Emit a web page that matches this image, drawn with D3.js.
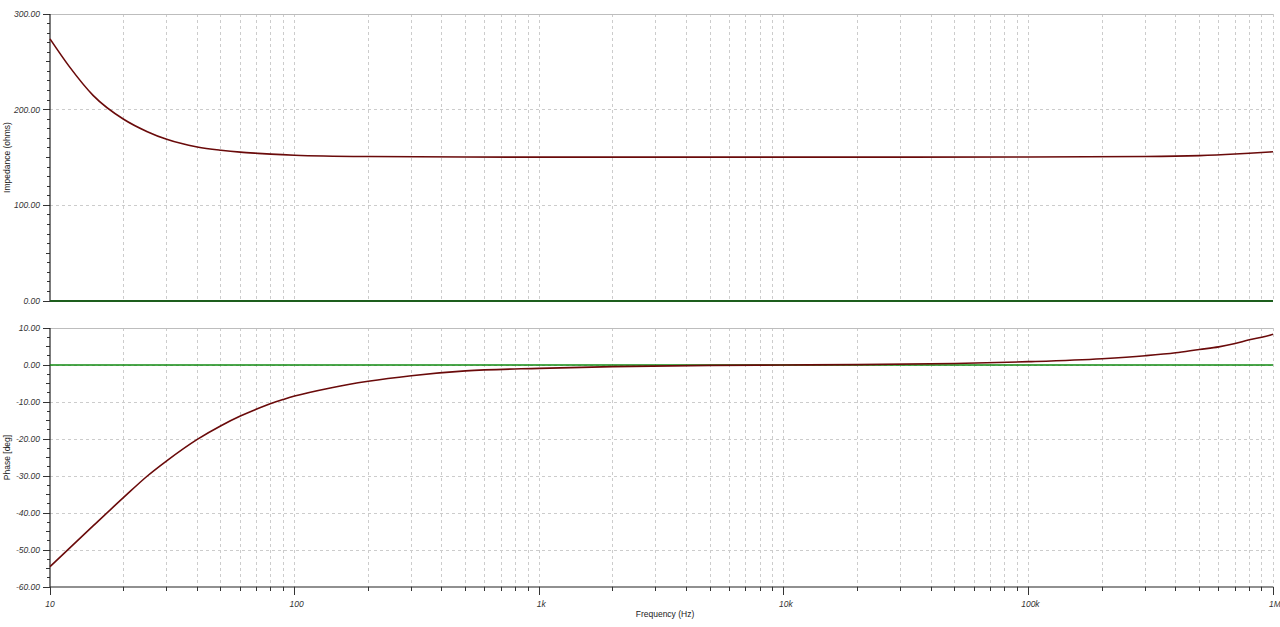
<!DOCTYPE html>
<html><head><meta charset="utf-8">
<script src="https://cdn.jsdelivr.net/npm/d3@7"></script>
<style>
html,body{margin:0;padding:0;background:#fff;}
text{font-family:"Liberation Sans",Arial,sans-serif;}
</style></head>
<body><svg id="c" width="1280" height="627"></svg>
<script>
// ---- data ----
const freqImp = [10, 12, 15, 20, 25, 30, 40, 50, 60, 70, 80, 100, 200, 500, 1000, 10000, 100000, 300000, 500000, 700000, 800000, 1000000];
const impedance = [274, 245, 215, 190, 177, 169, 161, 157.6, 155.6, 154.4, 153.5, 152.4, 151, 150.5, 150.4, 150.4, 150.5, 151, 152, 153.6, 154.4, 156];
const freqPh = [10, 15, 20, 25, 30, 40, 50, 60, 70, 80, 90, 100, 140, 200, 300, 500, 1000, 2000, 5000, 10000, 20000, 50000, 100000, 200000, 300000, 400000, 500000, 600000, 700000, 800000, 900000, 1000000];
const phase = [-54.5, -43.5, -35.8, -30, -25.9, -20.1, -16.4, -13.8, -11.9, -10.4, -9.3, -8.4, -6.2, -4.4, -2.9, -1.6, -0.9, -0.45, -0.1, 0, 0.1, 0.4, 0.9, 1.7, 2.5, 3.3, 4.2, 4.9, 5.8, 6.8, 7.5, 8.3];
const xTickValues = [10, 100, 1000, 10000, 100000, 1000000];
const xTickLabels = ["10", "100", "1k", "10k", "100k", "1M"];
const impTicks = [0, 100, 200, 300];
const phTicks = [-60, -50, -40, -30, -20, -10, 0, 10];
const impTitle = "Impedance (ohms)";
const phTitle = "Phase [deg]";
const xTitle = "Frequency (Hz)";

const svg = d3.select("#c");
const L = 50, R = 1273;
const x = d3.scaleLog().domain([10, 1e6]).range([L, R]);
const yImp = d3.scaleLinear().domain([0, 300]).range([301, 14]);
const yPh = d3.scaleLinear().domain([-60, 10]).range([587, 328]);

// minor decade values
const minorX = [];
for (let d = 10; d < 1e6; d *= 10) for (let k = 1; k <= 10; k++) minorX.push(d * k);

function panel(y, majors, minorStep, medStep) {
  const g = svg.append("g");
  const [y0, y1] = y.range();
  // vertical grid
  g.selectAll(null).data(minorX.filter(v => v > 10)).join("line")
    .attr("x1", d => x(d)).attr("x2", d => x(d))
    .attr("y1", y1).attr("y2", y0)
    .attr("stroke", "#cccccc").attr("stroke-width", 1).attr("stroke-dasharray", "3,3")
    .attr("shape-rendering", "crispEdges");
  // horizontal grid
  const dom = y.domain();
  g.selectAll(null).data(majors.filter(v => v > dom[0] && v < dom[1])).join("line")
    .attr("x1", L).attr("x2", R).attr("y1", d => y(d)).attr("y2", d => y(d))
    .attr("stroke", "#cccccc").attr("stroke-dasharray", "3,3")
    .attr("shape-rendering", "crispEdges");
  // top border
  g.append("line").attr("x1", L).attr("x2", R).attr("y1", y1).attr("y2", y1)
    .attr("stroke", "#bdbdbd").attr("shape-rendering", "crispEdges");
  // left axis with minor ticks
  const minors = d3.range(dom[0], dom[1] + 1e-9, minorStep);
  g.selectAll(null).data(minors).join("line")
    .attr("x1", d => {
      const isMaj = majors.some(m => Math.abs(m - d) < 1e-6);
      const isMed = Math.abs(d / medStep - Math.round(d / medStep)) < 1e-6;
      return isMaj ? L - 7 : (isMed ? L - 4.5 : L - 3);
    })
    .attr("x2", L).attr("y1", d => y(d)).attr("y2", d => y(d))
    .attr("stroke", "#333").attr("stroke-width", 1).attr("shape-rendering", "crispEdges");
  g.append("line").attr("x1", L).attr("x2", L).attr("y1", y1).attr("y2", y0)
    .attr("stroke", "#222").attr("stroke-width", 1.2);
  g.selectAll(null).data(majors).join("text")
    .attr("x", L - 10).attr("y", d => y(d)).attr("dy", "0.35em")
    .attr("text-anchor", "end").attr("font-size", 8.5).attr("font-style", "italic")
    .attr("fill", "#333").text(d => d.toFixed(2));
  return g;
}

panel(yImp, impTicks, 10, 50);
panel(yPh, phTicks, 2.5, 5);

// bottom x axis
svg.append("line").attr("x1", L).attr("x2", R).attr("y1", 587).attr("y2", 587)
  .attr("stroke", "#222").attr("stroke-width", 1.2);
svg.selectAll(null).data(minorX.concat([1e6])).join("line")
  .attr("x1", d => x(d)).attr("x2", d => x(d))
  .attr("y1", 587).attr("y2", d => xTickValues.includes(d) ? 595 : 591)
  .attr("stroke", "#333").attr("shape-rendering", "crispEdges");
svg.selectAll(null).data(xTickValues).join("text")
  .attr("x", (d, i) => x(d) + (i === 0 ? 0 : 2)).attr("y", 607)
  .attr("text-anchor", "middle").attr("font-size", 8.5).attr("font-style", "italic")
  .attr("fill", "#333").text((d, i) => xTickLabels[i]);
svg.append("text").attr("x", 665).attr("y", 617).attr("text-anchor", "middle")
  .attr("font-size", 8.5).attr("fill", "#222").text(xTitle);

// y titles
svg.append("text").attr("transform", `translate(10,${(14 + 301) / 2}) rotate(-90)`)
  .attr("text-anchor", "middle").attr("font-size", 8.5).attr("fill", "#222").text(impTitle);
svg.append("text").attr("transform", `translate(10,${(328 + 587) / 2}) rotate(-90)`)
  .attr("text-anchor", "middle").attr("font-size", 8.5).attr("fill", "#222").text(phTitle);

// green reference lines
svg.append("line").attr("x1", L).attr("x2", R).attr("y1", yImp(0)).attr("y2", yImp(0))
  .attr("stroke", "#1d5e1d").attr("stroke-width", 2.2);
svg.append("line").attr("x1", L).attr("x2", R).attr("y1", yPh(0)).attr("y2", yPh(0))
  .attr("stroke", "#118a11").attr("stroke-width", 1.5);

// curves
const lineImp = d3.line().x((d, i) => x(freqImp[i])).y(d => yImp(d)).curve(d3.curveMonotoneX);
svg.append("path").attr("d", lineImp(impedance)).attr("fill", "none")
  .attr("stroke", "#6a0a0a").attr("stroke-width", 1.6);
const linePh = d3.line().x((d, i) => x(freqPh[i])).y(d => yPh(d)).curve(d3.curveMonotoneX);
svg.append("path").attr("d", linePh(phase)).attr("fill", "none")
  .attr("stroke", "#6a0a0a").attr("stroke-width", 1.6);
</script></body></html>
